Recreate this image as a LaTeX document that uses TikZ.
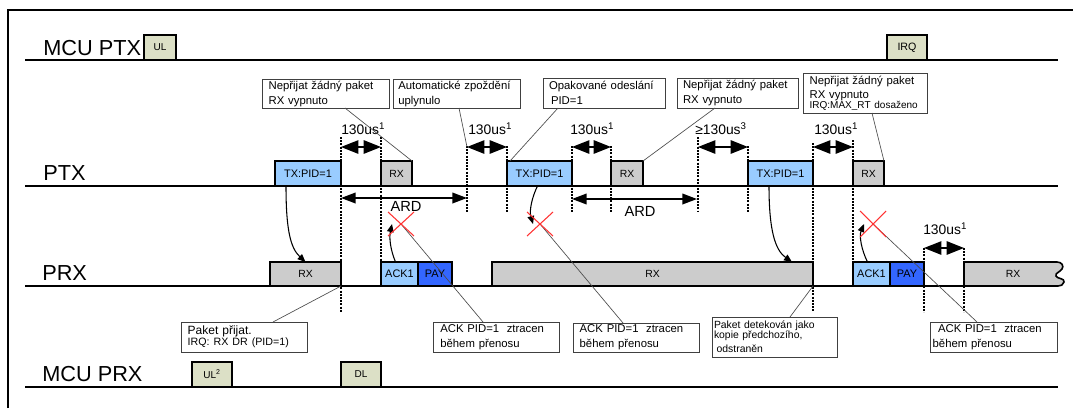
\documentclass[tikz,border=0pt]{standalone}
\usepackage{fontspec}
\setmainfont{Liberation Sans}
\usetikzlibrary{arrows.meta,calc}
\definecolor{txblue}{RGB}{153,204,255}
\definecolor{rxgray}{RGB}{204,204,204}
\definecolor{payblue}{RGB}{51,102,255}
\definecolor{mcubeige}{RGB}{220,224,198}
\definecolor{xred}{RGB}{255,50,50}
\newcommand{\bx}[7]{\node[#6, minimum width={(#4-#2)*0.75pt}, minimum height={(#5-#3)*0.75pt}] (#1) at ({(#2+#4)/2},{(#3+#5)/2}) {#7};}
\newcommand{\callout}[8][]{\pgfmathsetlengthmacro\cw{(#5-#3)*0.75pt-2*#7}\node[callbox, inner xsep=#7, text width=\cw, minimum width={(#5-#3)*0.75pt}, minimum height={(#6-#4)*0.75pt}, #1] (#2) at ({(#3+#5)/2},{(#4+#6)/2}) {#8};}
\tikzset{
  boxbase/.style={draw=black, line width=1.2pt, inner sep=0pt, outer sep=0pt},
  txbox/.style={boxbase, fill=txblue, font=\fontsize{8.2}{9}\selectfont},
  rxbox/.style={boxbase, fill=rxgray, font=\fontsize{7.8}{9}\selectfont},
  ackbox/.style={boxbase, fill=txblue, font=\fontsize{8.2}{9}\selectfont},
  paybox/.style={boxbase, fill=payblue, font=\fontsize{8.2}{9}\selectfont},
  mcubox/.style={boxbase, fill=mcubeige, font=\fontsize{7.5}{8}\selectfont},
  callbox/.style={draw=black!75, line width=0.6pt, fill=white, inner ysep=0pt, outer sep=0pt, align=left, font=\fontsize{8.5}{11.25}\selectfont},
  frameline/.style={line width=1.5pt},
  lane/.style={line width=1.5pt},
  vdot/.style={line width=1.1pt, dash pattern=on 1.5pt off 0.9pt},
  dimarrow/.style={{Triangle[length=13pt,width=10pt]}-{Triangle[length=13pt,width=10pt]}, line width=1.2pt},
  ardarrow/.style={{Triangle[length=11pt,width=8pt]}-{Triangle[length=11pt,width=8pt]}, line width=1.2pt},
  sig/.style={-{Triangle[length=6pt,width=5pt]}, line width=0.8pt},
  lead/.style={draw=black!70, line width=0.5pt},
  redx/.style={draw=xred, line width=0.8pt},
  lanelbl/.style={inner sep=0pt, font=\fontsize{16.3}{18}\selectfont},
  tmlbl/.style={inner sep=0pt, font=\fontsize{10.4}{12}\selectfont},
  ardlbl/.style={inner sep=0pt, font=\fontsize{11}{12}\selectfont},
}
\begin{document}
\begin{tikzpicture}[x=0.75pt,y=-0.75pt]
\useasboundingbox (0,0) rectangle (1073,408);
% frame
\draw[frameline] (8,408) -- (8,10) -- (1073,10);
% lanes
\draw[lane] (25,60) -- (1058,60);
\draw[lane] (25,186) -- (1058,186);
\draw[lane] (25,286) -- (1058,286);
\draw[lane] (25,387) -- (1058,387);
\node[lanelbl, anchor=base west] (lmcuptx) at (43,55) {MCU PTX};
\node[lanelbl, anchor=base west] (lptx) at (43,180) {PTX};
\node[lanelbl, anchor=base west] (lprx) at (42,280) {PRX};
\node[lanelbl, anchor=base west] (lmcuprx) at (42,381) {MCU PRX};
% dotted markers
\draw[vdot] (341,137) -- (341,312);
\draw[vdot] (381,137) -- (381,262);
\draw[vdot] (467,146) -- (467,212);
\draw[vdot] (507,146) -- (507,212);
\draw[vdot] (572,146) -- (572,212);
\draw[vdot] (611,146) -- (611,212);
\draw[vdot] (698,137) -- (698,212);
\draw[vdot] (748,146) -- (748,212);
\draw[vdot] (813,143) -- (813,312);
\draw[vdot] (853,140) -- (853,262);
\draw[vdot] (924,248) -- (924,312);
\draw[vdot] (964,248) -- (964,312);
% MCU boxes
\bx{ul}{144}{35}{176}{60}{mcubox}{UL}
\bx{irq}{887}{35}{927}{60}{mcubox}{\fontsize{8}{9}\selectfont IRQ}
\bx{ultwo}{192}{362}{232}{387}{mcubox}{UL\textsuperscript{2}}
\bx{dl}{341}{362}{381}{387}{mcubox}{DL}
% PTX boxes
\bx{txa}{275}{161}{341}{186}{txbox}{TX:PID=1}
\bx{rxa}{381}{161}{412}{186}{rxbox}{RX}
\bx{txb}{507}{161}{572}{186}{txbox}{TX:PID=1}
\bx{rxb}{611}{161}{643}{186}{rxbox}{RX}
\bx{txc}{748}{161}{813}{186}{txbox}{TX:PID=1}
\bx{rxc}{853}{161}{884}{186}{rxbox}{RX}
% PRX boxes
\bx{prxa}{270}{262}{341}{286}{rxbox}{RX}
\bx{acka}{381}{262}{418}{286}{ackbox}{ACK1}
\bx{paya}{418}{262}{452}{286}{paybox}{PAY}
\bx{prxb}{492}{262}{813}{286}{rxbox}{RX}
\bx{ackb}{853}{262}{890}{286}{ackbox}{ACK1}
\bx{payb}{890}{262}{924}{286}{paybox}{PAY}
\draw[boxbase, fill=rxgray] (964,286) -- (964,262) -- (1057,262)
  .. controls (1062,262) and (1064,266) .. (1062,269)
  .. controls (1060,272) and (1055,273) .. (1056,276)
  .. controls (1057,279) and (1065,278) .. (1064,282)
  .. controls (1063,285) and (1061,286) .. (1058,286) -- cycle;
\node[rxbox, draw=none, fill=none] (prxc) at (1013,274) {RX};
% timing dimensions
\coordinate (ga) at (341,147); \coordinate (gb) at (381,147);
\coordinate (gc) at (467,147); \coordinate (gd) at (507,147);
\coordinate (ge) at (572,147); \coordinate (gf) at (611,147);
\coordinate (gg) at (698,147); \coordinate (gh) at (748,147);
\coordinate (gi) at (813,147); \coordinate (gj) at (853,147);
\coordinate (gk) at (924,248); \coordinate (gl) at (964,248);
\draw[dimarrow] (ga) -- (gb);
\draw[dimarrow] (gc) -- (gd);
\draw[dimarrow] (ge) -- (gf);
\draw[dimarrow] (gg) -- (gh);
\draw[dimarrow] (gi) -- (gj);
\draw[dimarrow] (gk) -- (gl);
\node[tmlbl, anchor=base west] (ta) at (341,134) {130us\textsuperscript{1}};
\node[tmlbl, anchor=base west] (tb) at (468,134) {130us\textsuperscript{1}};
\node[tmlbl, anchor=base west] (tc) at (570,134) {130us\textsuperscript{1}};
\node[tmlbl, anchor=base west] (td) at (695,134) {≥130us\textsuperscript{3}};
\node[tmlbl, anchor=base west] (te) at (814,134) {130us\textsuperscript{1}};
\node[tmlbl, anchor=base west] (tf) at (923,234) {130us\textsuperscript{1}};
% ARD
\coordinate (aa) at (341,198); \coordinate (ab) at (467,198);
\coordinate (ac) at (572,199); \coordinate (ad) at (697,199);
\draw[ardarrow] (aa) -- (ab);
\draw[ardarrow] (ac) -- (ad);
\node[ardlbl] (arda) at (406,206) {ARD};
\node[ardlbl] (ardb) at (640,211) {ARD};
% callouts
\callout{ca}{262}{79}{389}{108}{5pt}{Nepřijat žádný paket\\RX vypnuto}
\callout{cb}{393}{79}{520}{108}{4pt}{Automatické zpoždění\\uplynulo}
\callout{cc}{543}{78}{665}{108}{4.5pt}{Opakované odeslání\\\hspace*{1.5pt}PID=1}
\callout{cd}{677}{78}{798}{108}{4.5pt}{Nepřijat žádný paket\\RX vypnuto}
\callout[font=\fontsize{8.5}{10.5}\selectfont]{ce}{803}{73}{927}{113}{5pt}{Nepřijat žádný paket\\RX vypnuto\\[-3pt]{\fontsize{7.5}{8}\selectfont IRQ:MAX\_RT dosaženo}}
\callout[font=\fontsize{9}{8.25}\selectfont]{cf}{181}{322}{307}{352}{5pt}{Paket přijat.\\{\fontsize{8}{8.25}\selectfont IRQ: RX DR (PID=1)}}
\callout{cg}{433}{322}{559}{352}{5.5pt}{ACK PID=1\ \ ztracen\\během přenosu}
\callout{ch}{573}{323}{699}{352}{5pt}{ACK PID=1\ \ ztracen\\během přenosu}
\callout[font=\fontsize{7.8}{7.6}\selectfont]{ci}{712}{317}{837}{357}{1.5pt}{Paket detekován jako\\kopie předchozího,\\[3pt]\hspace*{2pt}odstraněn}
\callout{cj}{930}{322}{1057}{352}{2pt}{\hspace*{4pt}ACK PID=1\ \ ztracen\\během přenosu}
% loss points
\coordinate (xa) at (401,224);
\coordinate (xb) at (540,224);
\coordinate (xc) at (873,224);
% leaders
\draw[lead] ($(ca.south west)+(83,0)$) -- (rxa.north east);
\draw[lead] ($(cb.south west)+(66,0)$) -- (gc);
\draw[lead] ($(cc.south west)+(15,0)$) -- ($(txb.north west)+(3,0)$);
\draw[lead] ($(cd.south west)+(38,0)$) -- (rxb.north east);
\draw[lead] ($(ce.south west)+(69,0)$) -- (rxc.north east);
\draw[lead] ($(cf.north west)+(92,0)$) -- (prxa.south east);
\draw[lead] (xa) -- ($(cg.north west)+(50,0)$);
\draw[lead] (xb) -- ($(ch.north west)+(50,0)$);
\draw[lead] ($(ci.north west)+(78,0)$) -- (prxb.south east);
\draw[lead] (xc) -- ($(cj.north west)+(47,0)$);
% signals
\draw[sig] ($(txa.south west)+(11,0)$) .. controls +(0,44) and +(-15,-14) .. (prxa.north);
\draw[sig] ($(acka.north)+(-4,0)$) .. controls +(-5,-12) and +(-3,14) .. ($(xa)+(-9,0)$);
\draw[sig] ($(txb.south)+(-2,0)$) .. controls +(-5,10) and +(-4,-14) .. ($(xb)+(-7,0)$);
\draw[sig] ($(txc.south west)+(21,0)$) .. controls +(0,44) and +(-17,-12) .. ($(prxb.north east)+(-21,0)$);
\draw[sig] ($(ackb.north)+(-4,0)$) .. controls +(-6,-12) and +(-5,12) .. ($(xc)+(-9,0)$);
% red crosses
\draw[redx] ($(xa)+(-13,-12)$) -- ($(xa)+(13,12)$);
\draw[redx] ($(xa)+(13,-12)$) -- ($(xa)+(-13,12)$);
\draw[redx] ($(xb)+(-13,-12)$) -- ($(xb)+(13,12)$);
\draw[redx] ($(xb)+(13,-12)$) -- ($(xb)+(-13,12)$);
\draw[redx] ($(xc)+(-13,-13)$) -- ($(xc)+(13,13)$);
\draw[redx] ($(xc)+(13,-13)$) -- ($(xc)+(-13,13)$);
\end{tikzpicture}
\end{document}
